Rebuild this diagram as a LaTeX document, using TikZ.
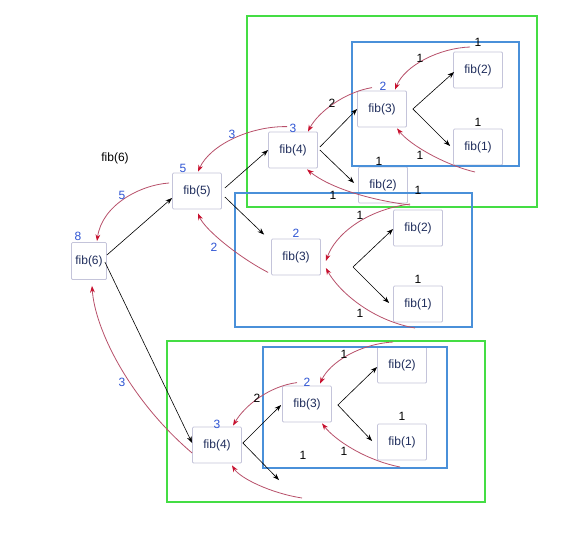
\documentclass[tikz,border=0pt]{standalone}
\usepackage{fontspec}
\setmainfont{Liberation Sans}
\usetikzlibrary{arrows.meta}
\definecolor{boxline}{HTML}{C4C4DA}
\definecolor{boxtext}{HTML}{1F2D5C}
\definecolor{lblue}{HTML}{2F55D4}
\definecolor{redline}{HTML}{B8506A}
\definecolor{redtip}{HTML}{C8102E}
\definecolor{gframe}{HTML}{44DD44}
\definecolor{bframe}{HTML}{4A90D9}
\tikzset{
  fibbox/.style={draw=boxline, line width=0.6pt, rounded corners=0.8pt, text=boxtext, font=\fontsize{9}{10}\selectfont,
    minimum width=36.75pt, minimum height=27pt, inner sep=0pt},
  callarrow/.style={draw=black, line width=0.45pt, -{Stealth[length=5pt,width=3.6pt]}},
  retarrow/.style={draw=redline, line width=0.6pt, -{Stealth[length=5pt,width=3.6pt,color=redtip]}},
  vallbl/.style={text=lblue, font=\fontsize{9}{10}\selectfont, inner sep=0pt},
  numlbl/.style={text=black, font=\fontsize{9}{10}\selectfont, inner sep=0pt},
  gbox/.style={draw=gframe, line width=1pt},
  bbox/.style={draw=bframe, line width=1pt}
}
\begin{document}
\begin{tikzpicture}[x=0.75pt,y=-0.75pt]
\useasboundingbox (0,0) rectangle (570,539);
\fill[white] (0,0) rectangle (570,539);

% nodes
\node[fibbox, minimum width=26.25pt, minimum height=27.75pt] (f6) at (89,261) {fib(6)};
\node[fibbox] (f5) at (197,191) {fib(5)};
\node[fibbox] (f4a) at (293,150) {fib(4)};
\node[fibbox] (f3a) at (382,109) {fib(3)};
\node[fibbox] (f2a) at (478,70) {fib(2)};
\node[fibbox] (f1a) at (478,147) {fib(1)};
\node[fibbox] (f2b) at (383,185) {fib(2)};
\node[fibbox] (f3b) at (296,257) {fib(3)};
\node[fibbox] (f2c) at (418,228) {fib(2)};
\node[fibbox] (f1c) at (418,304) {fib(1)};
\node[fibbox] (f4c) at (217,445) {fib(4)};
\node[fibbox] (f3c) at (307,404) {fib(3)};
\node[fibbox] (f2d) at (402,365) {fib(2)};
\node[fibbox] (f1d) at (402,442) {fib(1)};

% frames
\draw[gbox] (247,16) rectangle (537,207);
\draw[bbox] (352,42) rectangle (519,166);
\draw[bbox] (235,193) rectangle (472,327);
\draw[gbox] (167,341) rectangle (485,502);
\draw[bbox] (263,347) rectangle (447,468);

% free coordinates
\coordinate (sp) at (353,267);
\coordinate (dang) at (279,480);
\coordinate (r5s) at (470,47);
\coordinate (r6s) at (475,172);
\coordinate (r8s) at (410,205);
\coordinate (r9s) at (410,204);
\coordinate (r10s) at (415,328);
\coordinate (r11s) at (393,342);
\coordinate (r12s) at (400,467);
\coordinate (r14s) at (302,498);

% call arrows
\draw[callarrow] ([shift={(0,-6)}]f6.east) -- ([shift={(0,7)}]f5.west);
\draw[callarrow] ([shift={(-2,1)}]f6.east) -- ([shift={(0,-2)}]f4c.west);
\draw[callarrow] ([shift={(3,-3)}]f5.east) -- (f4a.west);
\draw[callarrow] ([shift={(3,6)}]f5.east) -- ([shift={(-7,-4)}]f3b.north west);
\draw[callarrow] ([shift={(2,-3)}]f4a.east) -- (f3a.west);
\draw[callarrow] ([shift={(2,0)}]f4a.east) -- ([shift={(-4,-2)}]f2b.west);
\draw[callarrow] ([shift={(6,0)}]f3a.east) -- ([shift={(1,2)}]f2a.west);
\draw[callarrow] ([shift={(6,0)}]f3a.east) -- ([shift={(-3,-1)}]f1a.west);
\draw[callarrow] (sp) -- ([shift={(0,1)}]f2c.west);
\draw[callarrow] (sp) -- ([shift={(-4,-1)}]f1c.west);
\draw[callarrow] ([shift={(1,-2)}]f4c.east) -- ([shift={(-1,1)}]f3c.west);
\draw[callarrow] ([shift={(1,-2)}]f4c.east) -- (dang);
\draw[callarrow] ([shift={(6,1)}]f3c.east) -- ([shift={(0,2)}]f2d.west);
\draw[callarrow] ([shift={(6,1)}]f3c.east) -- ([shift={(-5,-1)}]f1d.west);

% return arrows
\draw[retarrow] ([shift={(-3,-8)}]f5.west) .. controls (140,185) and (102,205) .. ([shift={(8,-1)}]f6.north);
\draw[retarrow] ([shift={(-6,-5)}]f4a.north) .. controls (250,126) and (210,145) .. ([shift={(1,-1)}]f5.north);
\draw[retarrow] ([shift={(-3,-3)}]f3b.south west) .. controls (240,258) and (205,230) .. ([shift={(1,4)}]f5.south);
\draw[retarrow] ([shift={(0,8)}]f4c.west) .. controls (130,400) and (95,330) .. ([shift={(3,6)}]f6.south);
\draw[retarrow] (r5s) .. controls (440,48) and (405,65) .. ([shift={(13,-1)}]f3a.north);
\draw[retarrow] (r6s) .. controls (445,165) and (410,145) .. ([shift={(15,1)}]f3a.south);
\draw[retarrow] ([shift={(-10,-3)}]f3a.north) .. controls (345,92) and (318,112) .. ([shift={(15,0)}]f4a.north);
\draw[retarrow] (r8s) .. controls (370,200) and (330,188) .. ([shift={(14,1)}]f4a.south);
\draw[retarrow] (r9s) .. controls (365,210) and (335,235) .. ([shift={(5,4)}]f3b.east);
\draw[retarrow] (r10s) .. controls (370,320) and (338,290) .. ([shift={(5,11)}]f3b.east);
\draw[retarrow] (r11s) .. controls (360,344) and (330,362) .. ([shift={(13,-2)}]f3c.north);
\draw[retarrow] (r12s) .. controls (365,460) and (335,440) .. ([shift={(15,1)}]f3c.south);
\draw[retarrow] ([shift={(-10,-3)}]f3c.north) .. controls (270,386) and (245,405) .. ([shift={(16,-1)}]f4c.north);
\draw[retarrow] (r14s) .. controls (270,493) and (240,478) .. ([shift={(15,2)}]f4c.south);

% labels
\node[numlbl] (title) at (115,158) {fib(6)};
\node[vallbl] (v8) at (78,236) {8};
\node[vallbl] (v5a) at (183,168) {5};
\node[vallbl] (v5b) at (122,195) {5};
\node[vallbl] (v2a) at (214,247) {2};
\node[vallbl] (v3a) at (232,134) {3};
\node[vallbl] (v3b) at (293,128) {3};
\node[vallbl] (v2b) at (383,86) {2};
\node[vallbl] (v2c) at (296,233) {2};
\node[vallbl] (v3c) at (217,424) {3};
\node[vallbl] (v2d) at (307,382) {2};
\node[vallbl] (v3d) at (122,382) {3};

\node[numlbl] at (478,42) {1};
\node[numlbl] at (420,58) {1};
\node[numlbl] at (332,103) {2};
\node[numlbl] at (478,122) {1};
\node[numlbl] at (420,155) {1};
\node[numlbl] at (379,161) {1};
\node[numlbl] at (418,190) {1};
\node[numlbl] at (333,195) {1};
\node[numlbl] at (360,215) {1};
\node[numlbl] at (418,279) {1};
\node[numlbl] at (360,313) {1};
\node[numlbl] at (344,354) {1};
\node[numlbl] at (257,398) {2};
\node[numlbl] at (402,416) {1};
\node[numlbl] at (303,455) {1};
\node[numlbl] at (344,451) {1};
\end{tikzpicture}
\end{document}
